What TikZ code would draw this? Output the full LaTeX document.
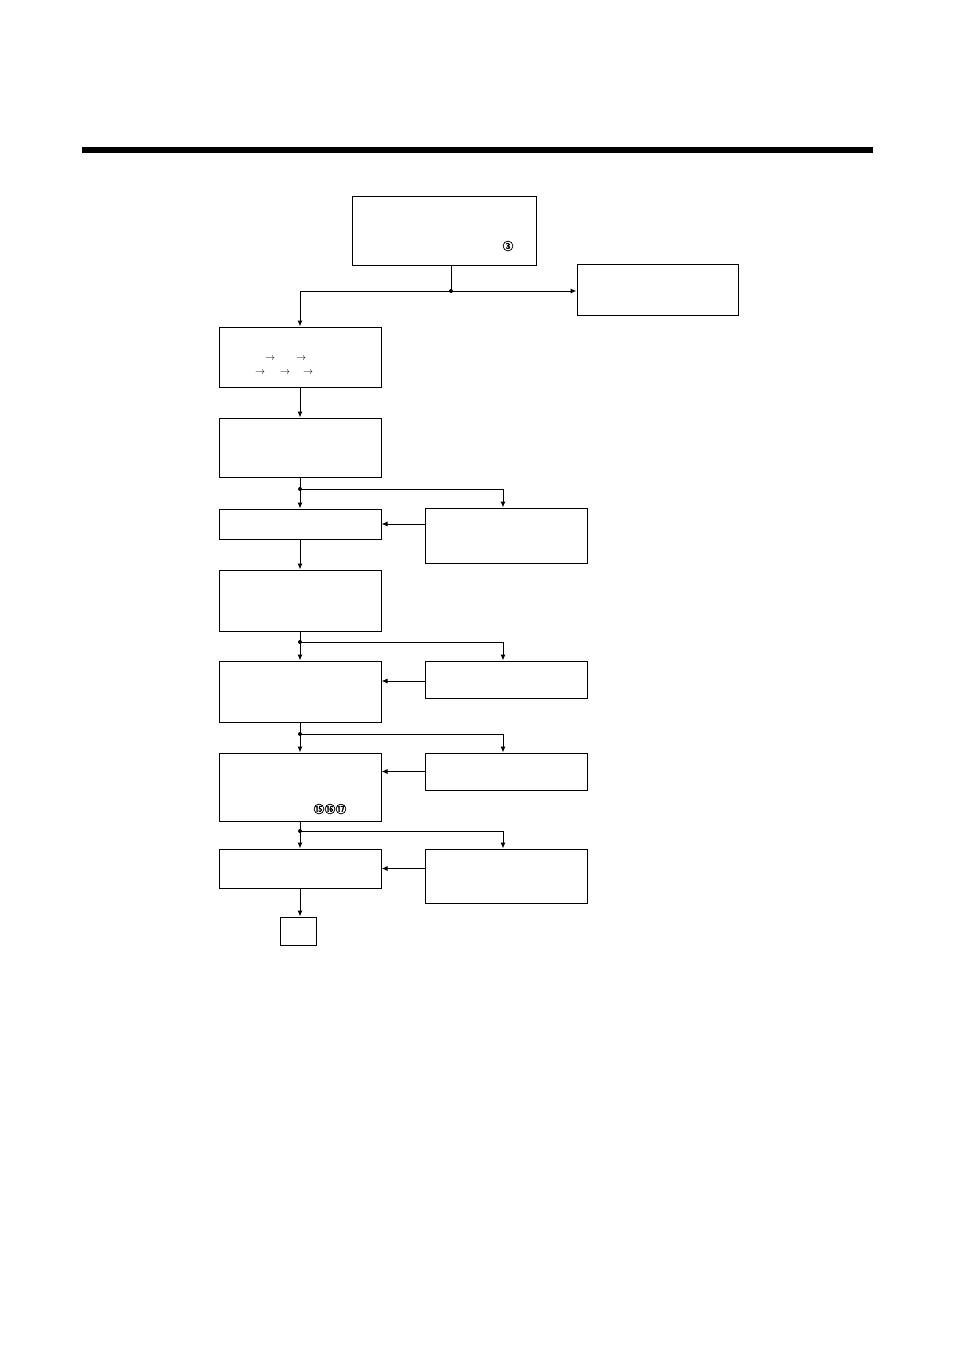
\documentclass[tikz,border=0pt]{standalone}
\usepackage{fontspec}
\usepackage{tikz}
\usetikzlibrary{arrows.meta}
\usetikzlibrary{positioning,calc}
\newfontfamily\cjkfont[FakeBold=2]{Noto Sans CJK JP}
\tikzset{
    block/.style={
        draw,
        rectangle,
        line width=1pt,
        fill=white,
        minimum width=162pt,
        inner sep=0pt
    },
    flow/.style={
        draw,
        line width=1pt,
        -{Latex[length=6pt, width=5pt]}
    },
    link/.style={
        draw,
        line width=1pt
    },
    jdot/.style={
        fill,
        circle,
        inner sep=0pt,
        minimum size=4pt
    }
}
\begin{document}
\begin{tikzpicture}[x=1pt, y=-1pt,
    every node/.style={font=\rmfamily}]
    \useasboundingbox (0,0) rectangle (954,1351);
    % heading bar
    \draw[line width=6pt] (82,150) -- (873,150);

    % Boxes - main column
    \node[block, minimum width=184pt, minimum height=68pt] (start) at (444,231) {};
    \node[block, minimum width=161pt, minimum height=51pt] (side) at (657.5,289.5) {};
    \node[block, minimum height=60pt] (order) at (300,357) {};
    \node[block, minimum height=59pt] (check) at (300,447.5) {};
    \node[block, minimum height=30pt] (setA) at (300,524) {};
    \node[block, minimum height=61pt] (runA) at (300,600.5) {};
    \node[block, minimum height=61pt] (runB) at (300,691.5) {};
    \node[block, minimum height=68pt] (runC) at (300,787) {};
    \node[block, minimum height=39pt] (finish) at (300,868.5) {};
    \node[block, minimum width=36pt, minimum height=28pt] (stop) at (298,931) {};

    % Boxes - right column
    \node[block, minimum height=55pt] (fixA) at (506,535.5) {};
    \node[block, minimum height=37pt] (fixB) at (506,679.5) {};
    \node[block, minimum height=37pt] (fixC) at (506,771.5) {};
    \node[block, minimum height=54pt] (fixD) at (506,876) {};

    % Texts
    \node[font=\cjkfont\fontsize{11}{13}\selectfont, inner sep=0pt] (n3) at (508,246) {③};
    \node[font=\cjkfont\fontsize{11}{13}\selectfont, inner sep=0pt] (n151617) at (330,809) {⑮⑯⑰};
    \node[inner sep=0pt] (a1) at (270,359) {$\rightarrow$};
    \node[inner sep=0pt] (a2) at (301,359) {$\rightarrow$};
    \node[inner sep=0pt] (a3) at (260,373) {$\rightarrow$};
    \node[inner sep=0pt] (a4) at (285,373) {$\rightarrow$};
    \node[inner sep=0pt] (a5) at (308,373) {$\rightarrow$};

    % Junctions
    \coordinate (j1) at (451,291);
    \coordinate (j2) at (300,489);
    \coordinate (j3) at (300,642);
    \coordinate (j4) at (300,734);
    \coordinate (j5) at (300,831);

    % Edges
    \draw[link] (start.south -| j1) -- (j1);
    \draw[flow] (j1) -- (j1 -| side.west);
    \draw[flow] (j1) -| (order.north);
    \draw[flow] (order.south) -- (check.north);
    \draw[flow] (check.south) -- (setA.north);
    \draw[flow] (j2) -| ([xshift=-3pt]fixA.north);
    \draw[flow] (fixA.west |- setA.east) -- (setA.east);
    \draw[flow] (setA.south) -- (runA.north);
    \draw[flow] (runA.south) -- (runB.north);
    \draw[flow] (j3) -| ([xshift=-3pt]fixB.north);
    \draw[flow] ([yshift=-1.5pt]fixB.west) -- ([yshift=-1.5pt]fixB.west -| runB.east);
    \draw[flow] (runB.south) -- (runC.north);
    \draw[flow] (j4) -| ([xshift=-3pt]fixC.north);
    \draw[flow] (fixC.west) -- (fixC.west -| runC.east);
    \draw[flow] (runC.south) -- (finish.north);
    \draw[flow] (j5) -| ([xshift=-3pt]fixD.north);
    \draw[flow] (fixD.west |- finish.east) -- (finish.east);
    \draw[flow] (finish.south) -- (finish.south |- stop.north);

    % Dots
    \foreach \j in {j1,j2,j3,j4,j5}
        \node[jdot] at (\j) {};
\end{tikzpicture}
\end{document}
